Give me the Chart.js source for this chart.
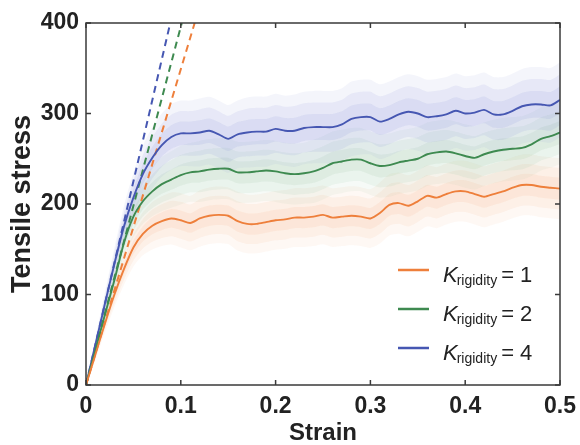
<!DOCTYPE html>
<html><head><meta charset="utf-8">
<script src="https://cdn.jsdelivr.net/npm/chart.js@4.4.0/dist/chart.umd.min.js"></script>
<style>html,body{margin:0;padding:0;background:#fff;}#wrap{width:580px;height:445px;}</style>
</head><body><div id="wrap"><canvas id="c" width="580" height="445"></canvas></div>
<script>
const strain = [0,0.01,0.02,0.03,0.04,0.05,0.06,0.07,0.08,0.09,0.10,0.11,0.12,0.13,0.14,0.15,0.16,0.17,0.18,0.19,0.20,0.21,0.22,0.23,0.24,0.25,0.26,0.27,0.28,0.29,0.30,0.31,0.32,0.33,0.34,0.35,0.36,0.37,0.38,0.39,0.40,0.41,0.42,0.43,0.44,0.45,0.46,0.47,0.48,0.49,0.50];
const stressK1 = [0,34,68,100,128,152,167,176,181,184,182,179,184,187,188,187,181,178,178,180,182,183,185,185,186,188,185,186,187,186,184,190,199,201,198,203,209,207,211,214,214,211,208,211,214,218,221,221,219,218,217];
const stressK2 = [0,39,78,116,157,186,203,214,222,227,232,235,236,238,239,239,235,235,236,237,236,234,233,234,236,240,245,247,249,249,245,242,243,246,248,250,255,257,258,256,253,251,255,258,260,261,262,266,272,275,279];
const stressK4 = [0,45,90,134,175,207,233,251,265,274,278,278,279,281,277,272,277,279,280,280,283,281,281,284,285,285,285,288,294,296,296,291,294,299,302,300,296,297,299,303,300,301,304,299,299,303,308,310,310,309,315];
// half-width of the noisy band around each mean curve
const spreadK1 = [0,5,8,11,14,17,19,21,22,23,24,24,25,25,25,25,26,26,26,26,26,26,26,26,26,26,26,26,26,26,26,27,27,27,27,27,27,27,27,27,27,27,27,27,27,27,27,27,27,27,27];
const spreadK2 = [0,5,9,12,15,18,20,22,24,25,26,26,27,27,27,27,27,27,27,27,27,27,27,27,28,28,28,28,28,28,28,28,28,28,28,28,28,28,28,28,28,28,28,28,28,28,28,28,28,28,28];
const spreadK4 = [0,6,10,14,18,22,25,27,28,29,29,29,30,30,30,30,30,31,31,31,31,31,32,32,32,32,32,32,33,33,33,33,33,33,33,33,33,33,33,33,33,33,33,33,33,33,33,33,33,33,33];
const fitModulus = [3490, 3960, 4500];
const kValues = ['1','2','4'];
const xTicks = [0,0.1,0.2,0.3,0.4,0.5];
const xTickLabels = ['0','0.1','0.2','0.3','0.4','0.5'];
const yTicks = [0,100,200,300,400];
const yTickLabels = ['0','100','200','300','400'];

const lineColors = ['#EE7F3B','#3E8A50','#4657B2'];
const bandRGB = ['240,140,75','95,165,115','115,125,210'];
const bandBoost = [1.0, 1.0, 1.3];
const means = [stressK1, stressK2, stressK4];
const spreads = [spreadK1, spreadK2, spreadK4];

const pts = arr => strain.map((s,i) => ({x:s, y:arr[i]}));
const datasets = [];
means.forEach((m,k) => datasets.push({
  label: 'K=' + kValues[k], data: pts(m), borderColor: lineColors[k], borderWidth: 1.9,
  pointRadius: 0, tension: 0.25, fill: false
}));
fitModulus.forEach((E,k) => datasets.push({
  data: [{x:0,y:0},{x:400/E,y:400}], borderColor: lineColors[k], borderWidth: 2,
  borderDash: [7,5], pointRadius: 0, fill: false
}));
// bands: blue, green, orange, layered so the edges fade out
const layers = [[1.25,0.06],[0.85,0.08],[0.45,0.09]];
[2,1,0].forEach(k => {
  layers.forEach(([f, alpha]) => {
    const up = means[k].map((v,i) => v + spreads[k][i]*f);
    const lo = means[k].map((v,i) => Math.max(0, v - spreads[k][i]*f));
    const idx = datasets.length;
    datasets.push({ data: pts(up), borderWidth: 0, pointRadius: 0, tension: 0.25,
      backgroundColor: 'rgba(' + bandRGB[k] + ',' + (alpha * bandBoost[k]).toFixed(3) + ')',
      fill: {target: idx + 1} });
    datasets.push({ data: pts(lo), borderWidth: 0, pointRadius: 0, tension: 0.25, fill: false });
  });
});

const FONT = '"Liberation Sans", Arial, Helvetica, sans-serif';
const TXT = '#222';

const framePlugin = {
  id: 'frame',
  afterDatasetsDraw(chart) {
    const {ctx, chartArea: a, scales: {x, y}} = chart;
    ctx.save();
    ctx.strokeStyle = '#3a3a3a'; ctx.lineWidth = 1.5;
    ctx.strokeRect(a.left, a.top, a.right - a.left, a.bottom - a.top);
    const L = 5;
    ctx.beginPath();
    xTicks.forEach(v => { const p = x.getPixelForValue(v);
      ctx.moveTo(p, a.bottom); ctx.lineTo(p, a.bottom - L);
      ctx.moveTo(p, a.top); ctx.lineTo(p, a.top + L); });
    yTicks.forEach(v => { const p = y.getPixelForValue(v);
      ctx.moveTo(a.left, p); ctx.lineTo(a.left + L, p);
      ctx.moveTo(a.right, p); ctx.lineTo(a.right - L, p); });
    ctx.stroke();
    // legend
    const lx = a.right - 162, ly0 = a.bottom - 115, dy = 39;
    [0,1,2].forEach(i => {
      const yy = ly0 + i*dy;
      ctx.strokeStyle = chart.data.datasets[i].borderColor; ctx.lineWidth = 2.5;
      ctx.beginPath(); ctx.moveTo(lx, yy); ctx.lineTo(lx + 31, yy); ctx.stroke();
      ctx.fillStyle = TXT; ctx.textBaseline = 'alphabetic'; ctx.textAlign = 'left';
      let tx = lx + 45; const base = yy + 12;
      ctx.font = 'italic 22px ' + FONT; ctx.fillText('K', tx, base); tx += ctx.measureText('K').width - 1;
      ctx.font = '14px ' + FONT; ctx.fillText('rigidity', tx, base + 3); tx += ctx.measureText('rigidity').width + 4;
      ctx.font = '22px ' + FONT; ctx.fillText('= ' + kValues[i], tx, base);
    });
    ctx.restore();
  }
};

new Chart(document.getElementById('c'), {
  type: 'line',
  data: { datasets },
  options: {
    responsive: false, animation: false, devicePixelRatio: 1,
    layout: { padding: { top: 23, right: 20, left: 0, bottom: 0 } },
    plugins: { legend: { display: false }, tooltip: { enabled: false } },
    scales: {
      x: { type: 'linear', min: 0, max: 0.5,
        grid: { display: false, drawTicks: false }, border: { display: false },
        afterBuildTicks: s => { s.ticks = xTicks.map(v => ({value: v})); },
        ticks: { autoSkip: false, maxRotation: 0, padding: 8, color: TXT,
          font: { family: FONT, size: 23, weight: 'bold' }, callback: (v, i) => xTickLabels[i] },
        title: { display: true, text: 'Strain', color: TXT, padding: 0,
          font: { family: FONT, size: 24, weight: 'bold', lineHeight: 1.0 } },
        afterFit: s => { s.height = 60; s.paddingLeft = 0; s.paddingRight = 0; } },
      y: { type: 'linear', min: 0, max: 400,
        grid: { display: false, drawTicks: false }, border: { display: false },
        afterBuildTicks: s => { s.ticks = yTicks.map(v => ({value: v})); },
        ticks: { autoSkip: false, padding: 7, color: TXT,
          font: { family: FONT, size: 23, weight: 'bold' }, callback: (v, i) => yTickLabels[i] },
        title: { display: true, text: 'Tensile stress', color: TXT, padding: { top: 6, bottom: 0 },
          font: { family: FONT, size: 27, weight: 'bold', lineHeight: 1.2 } },
        afterFit: s => { s.width = 86; s.paddingTop = 0; s.paddingBottom = 0; } }
    }
  },
  plugins: [framePlugin]
});
</script></body></html>
